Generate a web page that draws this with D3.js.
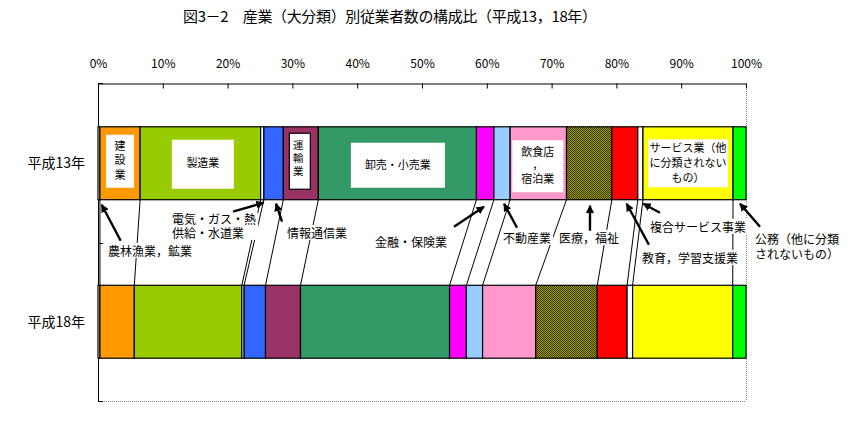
<!DOCTYPE html>
<html><head><meta charset="utf-8">
<script src="https://cdn.jsdelivr.net/npm/d3@7"></script>
<style>
body{margin:0;background:#fff}
svg{display:block}
text{font-family:"Noto Sans CJK JP","Noto Sans",sans-serif;fill:#000}
text.ml{font-family:"Liberation Sans","Noto Sans CJK JP",sans-serif}
</style>
</head><body>
<svg id="c" width="864" height="433"></svg>
<script>
// ---------- data ----------
const chartTitle = "図3－2　産業（大分類）別従業者数の構成比（平成13，18年）";
const categories = ["平成13年", "平成18年"];
const industries = ["農林漁業，鉱業","建設業","製造業","電気・ガス・熱供給・水道業","情報通信業","運輸業","卸売・小売業","金融・保険業","不動産業","飲食店，宿泊業","医療，福祉","教育，学習支援業","複合サービス事業","サービス業（他に分類されないもの）","公務（他に分類されないもの）"];
const shareH13 = [0.3, 6.2, 18.6, 0.5, 3.0, 5.4, 24.4, 2.7, 2.5, 8.7, 7.0, 4.0, 0.8, 13.9, 2.0];
const shareH18 = [0.3, 5.3, 16.6, 0.35, 3.3, 5.4, 23.0, 2.6, 2.5, 8.2, 9.5, 4.6, 0.85, 15.45, 2.05];
const tickValues = [0, 10, 20, 30, 40, 50, 60, 70, 80, 90, 100];

// ---------- styles ----------
const fills = ["#FFFFFF","#FF9900","#99CC00","#FFFFFF","#3366FF","#993366","#339966","#FF00FF","#99CCFF","#FF99CC","url(#olive)","#FF0000","#FFFFFF","#FFFF00","#00FF00"];

// ---------- layout ----------
const plot = {left: 98, right: 746, top: 83, bottom: 401};

const svg = d3.select("#c");
const defs = svg.append("defs");
const pat = defs.append("pattern").attr("id","olive").attr("width",2).attr("height",2).attr("patternUnits","userSpaceOnUse");
pat.append("rect").attr("width",2).attr("height",2).attr("fill","#9a9a00");
pat.append("rect").attr("width",1).attr("height",1).attr("fill","#3a3a00");
pat.append("rect").attr("x",1).attr("y",1).attr("width",1).attr("height",1).attr("fill","#3a3a00");
defs.append("marker").attr("id","ah").attr("viewBox","0 0 10 10").attr("refX",9).attr("refY",5)
  .attr("markerWidth",3.4).attr("markerHeight",3.4).attr("orient","auto").attr("markerUnits","strokeWidth")
  .append("path").attr("d","M0,0L10,5L0,10z").attr("fill","#000");

const x = d3.scaleLinear().domain([0,100]).range([plot.left, plot.right]);
const y = d3.scaleBand().domain(categories).range([plot.top+1, plot.bottom]).paddingInner(0.54).paddingOuter(0.27);

const rows = [shareH13, shareH18].map((vals, r) => {
  const o = {cat: categories[r]};
  vals.forEach((v,i) => o[i] = v);
  return o;
});
const keys = industries.map((d,i)=>i);
const series = d3.stack().keys(keys)(rows);

// title
svg.append("text").attr("x", 183).attr("y", 22)
  .attr("font-size", 15).attr("textLength", 414).attr("lengthAdjust","spacing").text(chartTitle);

// frame: dotted right/bottom
svg.append("line").attr("x1",plot.right+0.5).attr("x2",plot.right+0.5).attr("y1",plot.top).attr("y2",plot.bottom)
  .attr("stroke","#808080").attr("stroke-dasharray","1,1");
svg.append("line").attr("x1",plot.left).attr("x2",plot.right).attr("y1",plot.bottom+0.5).attr("y2",plot.bottom+0.5)
  .attr("stroke","#808080").attr("stroke-dasharray","1,1");

// top axis
const ax = svg.append("g").attr("transform",`translate(0,${plot.top+0.5})`)
  .call(d3.axisTop(x).tickValues(tickValues).tickFormat(d=>d+"%").tickSizeInner(-5).tickSizeOuter(0).tickPadding(16));
ax.selectAll("path,line").attr("stroke","#000");
ax.selectAll("text").attr("font-size",12).attr("font-family",'"Noto Sans CJK JP",sans-serif');

// left axis
const bounds = [y.range()[0]-1, (y(categories[0])+y.bandwidth()+y(categories[1]))/2, y.range()[1]];
svg.append("line").attr("x1",plot.left+0.5).attr("x2",plot.left+0.5).attr("y1",plot.top).attr("y2",plot.bottom+1).attr("stroke","#000");
svg.selectAll(".ltick").data(bounds).join("line").attr("x1",plot.left).attr("x2",plot.left+5)
  .attr("y1",d=>Math.round(d)+0.5).attr("y2",d=>Math.round(d)+0.5).attr("stroke","#000");

// category labels
svg.selectAll(".cl").data(categories).join("text")
  .attr("x",85).attr("y",d=>y(d)+y.bandwidth()/2).attr("dy","0.35em").attr("text-anchor","end")
  .attr("font-size",14).text(d=>d);

// series lines
const cum = series.map(s => s.map(d=>d[1]));
const ySeriesTop = y(categories[0]) + y.bandwidth();
const ySeriesBot = y(categories[1]);
svg.selectAll(".sl").data(cum.slice(0, cum.length-1)).join("line")
  .attr("x1",d=>x(d[0])).attr("x2",d=>x(d[1]))
  .attr("y1",ySeriesTop).attr("y2",ySeriesBot).attr("stroke","#000").attr("stroke-width",1);

// bars
const g = svg.append("g");
series.forEach((s,i) => {
  g.selectAll(null).data(s).join("rect")
    .attr("x", d=>x(d[0])).attr("width", d=>x(d[1])-x(d[0]))
    .attr("y", d=>y(d.data.cat)).attr("height", y.bandwidth())
    .attr("fill", fills[i]).attr("stroke","#000").attr("stroke-width",1.2);
});

// multi-line text helper: one <text>, one <tspan> per line
function multiText(sel, lines, x0, yFirst, lh, anchor, size){
  const t = sel.append("text").attr("class", lines.length>1 ? "ml" : null)
    .attr("text-anchor",anchor).attr("font-size",size);
  lines.forEach((s,k) => t.append("tspan").attr("x",x0).attr("y",yFirst + k*lh).attr("dy","0.35em").text(s));
  return t;
}

// inner labels on the 平成13年 bar
const innerLabels = [
  {i:1, lines:["建","設","業"], w:28, h:53, dx:0, dy:-2, lh:14.5, tdx:0, tdy:-1, fs:11},
  {i:2, lines:["製造業"], w:62, h:49, dx:2.5, dy:1, lh:14, tdx:0, tdy:-1, fs:11},
  {i:5, lines:["運","輸","業"], w:21, h:56, dx:-1, dy:-2, lh:13, tdx:-1.5, tdy:-3, fs:10.5, border:true},
  {i:6, lines:["卸売・小売業"], w:94, h:45, dx:0.5, dy:2, lh:14, tdx:0, tdy:0, fs:11},
  {i:9, lines:["飲食店","，","宿泊業"], w:51, h:52, dx:-0.5, dy:3, lh:13.5, tdx:0, tdy:-1, fs:11},
  {i:13, lines:["サービス業（他","に分類されない","もの）"], w:80, h:48, dx:0, dy:0, lh:14.7, tdx:0, tdy:0, fs:11}
];
const r0 = y(categories[0]) + y.bandwidth()/2;
innerLabels.forEach(L => {
  const seg = series[L.i][0];
  const cx = (x(seg[0]) + x(seg[1]))/2 + L.dx;
  const cy = r0 + L.dy;
  svg.append("rect").attr("x",cx-L.w/2).attr("y",cy-L.h/2).attr("width",L.w).attr("height",L.h)
    .attr("fill","#fff").attr("stroke",L.border?"#000":"none").attr("stroke-width",1.2);
  const n = L.lines.length;
  multiText(svg, L.lines, cx+L.tdx, cy+L.tdy-(n-1)/2*L.lh, L.lh, "middle", L.fs);
});

// annotations with arrows
const annotations = [
  {i:0,  lines:["農林漁業，鉱業"], tip:[2.7,5], tail:[19,36], text:[6.3,47]},
  {i:3,  lines:["電気・ガス・熱","供給・水道業"], tip:[1.3,3], tail:[-30.5,9], text:[-91.5,17], lh:14},
  {i:4,  lines:["情報通信業"], tip:[2.4,4], tail:[6,18], text:[11,30]},
  {i:7,  lines:["金融・保険業"], tip:[-1.2,7], tail:[-30,20], text:[-109,36]},
  {i:8,  lines:["不動産業"], tip:[2,4], tail:[13,24], text:[-1,35]},
  {i:10, lines:["医療，福祉"], tip:[0.8,6], tail:[0,25], text:[-31,33]},
  {i:12, lines:["複合サービス事業"], tip:[2.9,4], tail:[16.7,9], text:[6.7,24]},
  {i:11, lines:["教育，学習支援業"], tip:[1.8,4], tail:[22.3,41], text:[15.3,55]},
  {i:14, lines:["公務（他に分類","されないもの）"], tip:[0.5,4], tail:[20,23], text:[15,36], lh:15}
];
const rowBottom = y(categories[0]) + y.bandwidth();
const labG = svg.append("g");
const arrG = svg.append("g");
annotations.forEach(A => {
  const seg = series[A.i][0];
  const tx = (x(seg[0]) + x(seg[1]))/2 + A.tip[0];
  const ty = rowBottom + A.tip[1];
  const lx = tx + A.text[0], ly = ty + A.text[1];
  const lh = A.lh || 14;
  const grp = labG.append("g");
  const bg = grp.append("rect").attr("fill","#fff");
  multiText(grp, A.lines, lx, ly, lh, "start", 12);
  const bb = grp.node().getBBox();
  bg.attr("x",bb.x-2).attr("y",bb.y+1).attr("width",bb.width+4).attr("height",bb.height-2);
  arrG.append("line").attr("x1",tx+A.tail[0]).attr("y1",ty+A.tail[1]).attr("x2",tx).attr("y2",ty)
    .attr("stroke","#000").attr("stroke-width",2.4).attr("marker-end","url(#ah)");
});
</script>
</body></html>
